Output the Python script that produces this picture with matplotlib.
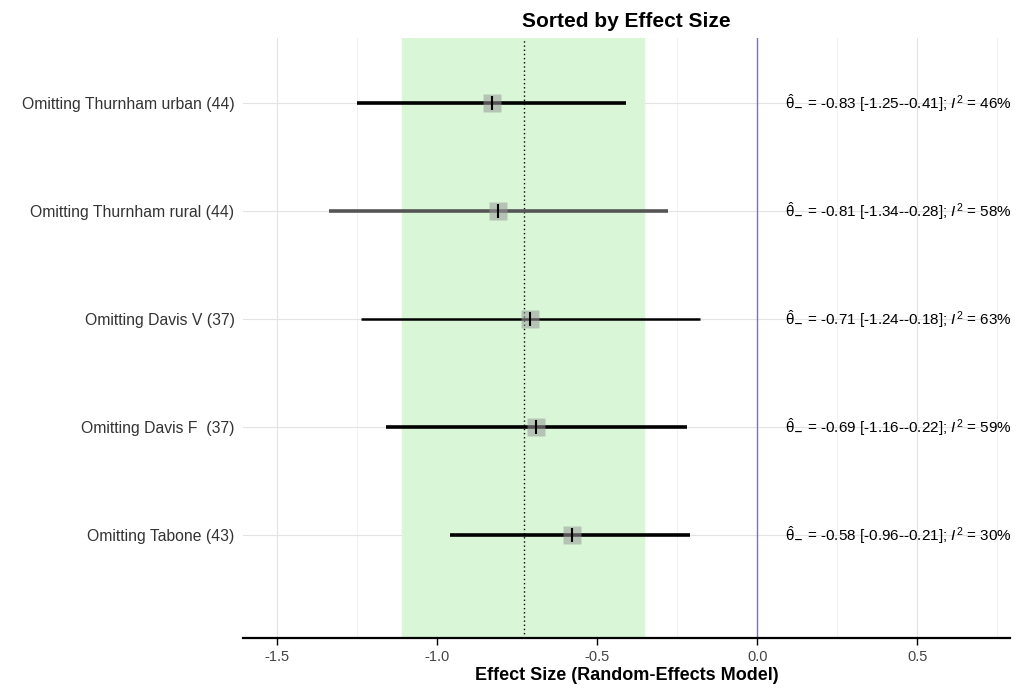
#!/usr/bin/env python3
"""Leave-one-out forest plot, sorted by effect size."""
import matplotlib
matplotlib.use("Agg")
import matplotlib.pyplot as plt
from matplotlib.ticker import MultipleLocator

plt.rcParams['font.family'] = ['Liberation Sans', 'DejaVu Sans']
plt.rcParams['mathtext.fontset'] = 'custom'
plt.rcParams['mathtext.rm'] = 'Liberation Sans'
plt.rcParams['mathtext.it'] = 'Liberation Sans:italic'

# data, top row first
studies = ['Omitting Thurnham urban (44)', 'Omitting Thurnham rural (44)',
	'Omitting Davis V (37)', 'Omitting Davis F  (37)', 'Omitting Tabone (43)']
effect = [-0.83, -0.81, -0.71, -0.69, -0.58]
lower = [-1.25, -1.34, -1.24, -1.16, -0.96]
upper = [-0.41, -0.28, -0.18, -0.22, -0.21]
i2 = [46, 58, 63, 59, 30]
pooled = -0.73
pooled_ci = (-1.11, -0.355)

line_colors = ['black', '#555555', 'black', 'black', 'black']
line_widths = [2.6, 2.6, 1.8, 2.6, 2.6]

fig = plt.figure(figsize=(10.16, 6.91), dpi=100)
ax = fig.add_axes([0.239, 0.0767, 0.755, 0.868])

ypos = list(range(len(studies), 0, -1))

ax.axvspan(pooled_ci[0], pooled_ci[1], color='#d9f7d6', zorder=1)
ax.axvline(pooled, color='black', ls=(0, (1, 2)), lw=1, zorder=2)
ax.axvline(0, color='#7a6be0', lw=1, zorder=2)

for y, e, lo, hi, c, w in zip(ypos, effect, lower, upper, line_colors, line_widths):
	ax.plot([lo, hi], [y, y], color=c, lw=w, solid_capstyle='butt', zorder=3)
	ax.plot([e], [y], marker='s', ms=13, color='#999999', alpha=0.55, mec='none', zorder=4)
	ax.plot([e], [y], marker='|', ms=10, mew=1.5, color='black', zorder=5)

for y, e, lo, hi, q in zip(ypos, effect, lower, upper, i2):
	label = r'$\hat{\mathrm{\theta}}_{\mathbf{-}}$ = %.2f [%.2f-%.2f]; $I^2$ = %d%%' % (e, lo, hi, q)
	ax.text(0.088, y, label, fontsize=11, va='center', ha='left', clip_on=False, zorder=6)

ax.set_xlim(-1.608, 0.79)
ax.set_ylim(0.046, 5.6)
ax.set_yticks(ypos)
ax.set_yticklabels(studies, fontsize=11.3, color='#333333')
ax.tick_params(axis='y', length=0, pad=6)

ax.xaxis.set_major_locator(MultipleLocator(0.5))
ax.xaxis.set_minor_locator(MultipleLocator(0.25))
ax.set_xticks([-1.5, -1.0, -0.5, 0.0, 0.5])
ax.set_xticklabels(['-1.5', '-1.0', '-0.5', '0.0', '0.5'], fontsize=10.5, color='#444444')
ax.tick_params(axis='x', which='major', length=5, width=1, color='black')
ax.tick_params(axis='x', which='minor', length=0)
ax.grid(True, which='major', color='#e3e3e3', lw=0.8, zorder=0)
ax.grid(True, which='minor', axis='x', color='#f0f0f0', lw=0.6, zorder=0)
ax.set_axisbelow(True)

for side in ['left', 'right', 'top']:
	ax.spines[side].set_visible(False)
ax.spines['bottom'].set_linewidth(1.6)

ax.set_xlabel('Effect Size (Random-Effects Model)', fontsize=13, fontweight='bold', labelpad=2)
ax.set_title('Sorted by Effect Size', fontsize=15, fontweight='bold', pad=8)

fig.savefig('out.png', dpi=100)
